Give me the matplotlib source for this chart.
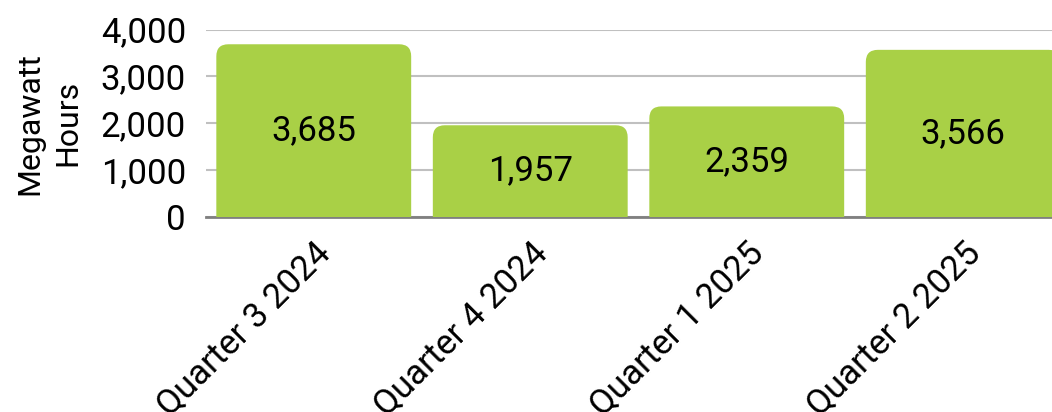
import matplotlib.pyplot as plt
from matplotlib.patches import FancyBboxPatch

plt.rcParams['font.family'] = ['Roboto', 'DejaVu Sans']

quarters = ['Quarter 3 2024', 'Quarter 4 2024', 'Quarter 1 2025', 'Quarter 2 2025']
mwh = [3685, 1957, 2359, 3566]
yticks = [0, 1000, 2000, 3000, 4000]

BAR_COLOR = '#A9D046'
BAR_WIDTH = 0.9

fig = plt.figure(figsize=(10.52, 4.12), dpi=100)
ax = fig.add_axes([205.5 / 1052, 195 / 412, 866 / 1052, 187.5 / 412])

ax.set_xlim(-0.5, len(quarters) - 0.5)
ax.set_ylim(0, 4000)

# rounded top corners: radius ~12 px in both directions
px_x = 866 / 4          # pixels per x data unit
px_y = 187.5 / 4000     # pixels per y data unit
r = 12 / px_x
aspect = (12 / px_y) / r

for i, v in enumerate(mwh):
    patch = FancyBboxPatch((i - BAR_WIDTH / 2, -400), BAR_WIDTH, v + 400,
                           boxstyle=f'round,pad=0,rounding_size={r}',
                           mutation_aspect=aspect,
                           facecolor=BAR_COLOR, edgecolor='none', zorder=3)
    ax.add_patch(patch)
    ax.text(i, v / 2, f'{v:,}', ha='center', va='center', fontsize=25, zorder=4)

ax.set_yticks(yticks)
ax.set_yticklabels([f'{t:,}' for t in yticks], fontsize=25)
ax.set_xticks(range(len(quarters)))
ax.set_xticklabels(quarters, fontsize=25, rotation=45, ha='right',
                   rotation_mode='anchor')
ax.tick_params(axis='both', length=0)
ax.tick_params(axis='y', pad=14)
ax.tick_params(axis='x', pad=14)

ax.grid(axis='y', color='#C0C0C0', linewidth=1.5, zorder=1)
ax.set_axisbelow(True)
for s in ['top', 'right', 'left']:
    ax.spines[s].set_visible(False)
ax.spines['bottom'].set_color('#808080')
ax.spines['bottom'].set_linewidth(2)
ax.spines['bottom'].set_zorder(2)

ax.set_ylabel('Megawatt\nHours', fontsize=23, linespacing=1.4, labelpad=13)

fig.savefig('out.png', dpi=100)
